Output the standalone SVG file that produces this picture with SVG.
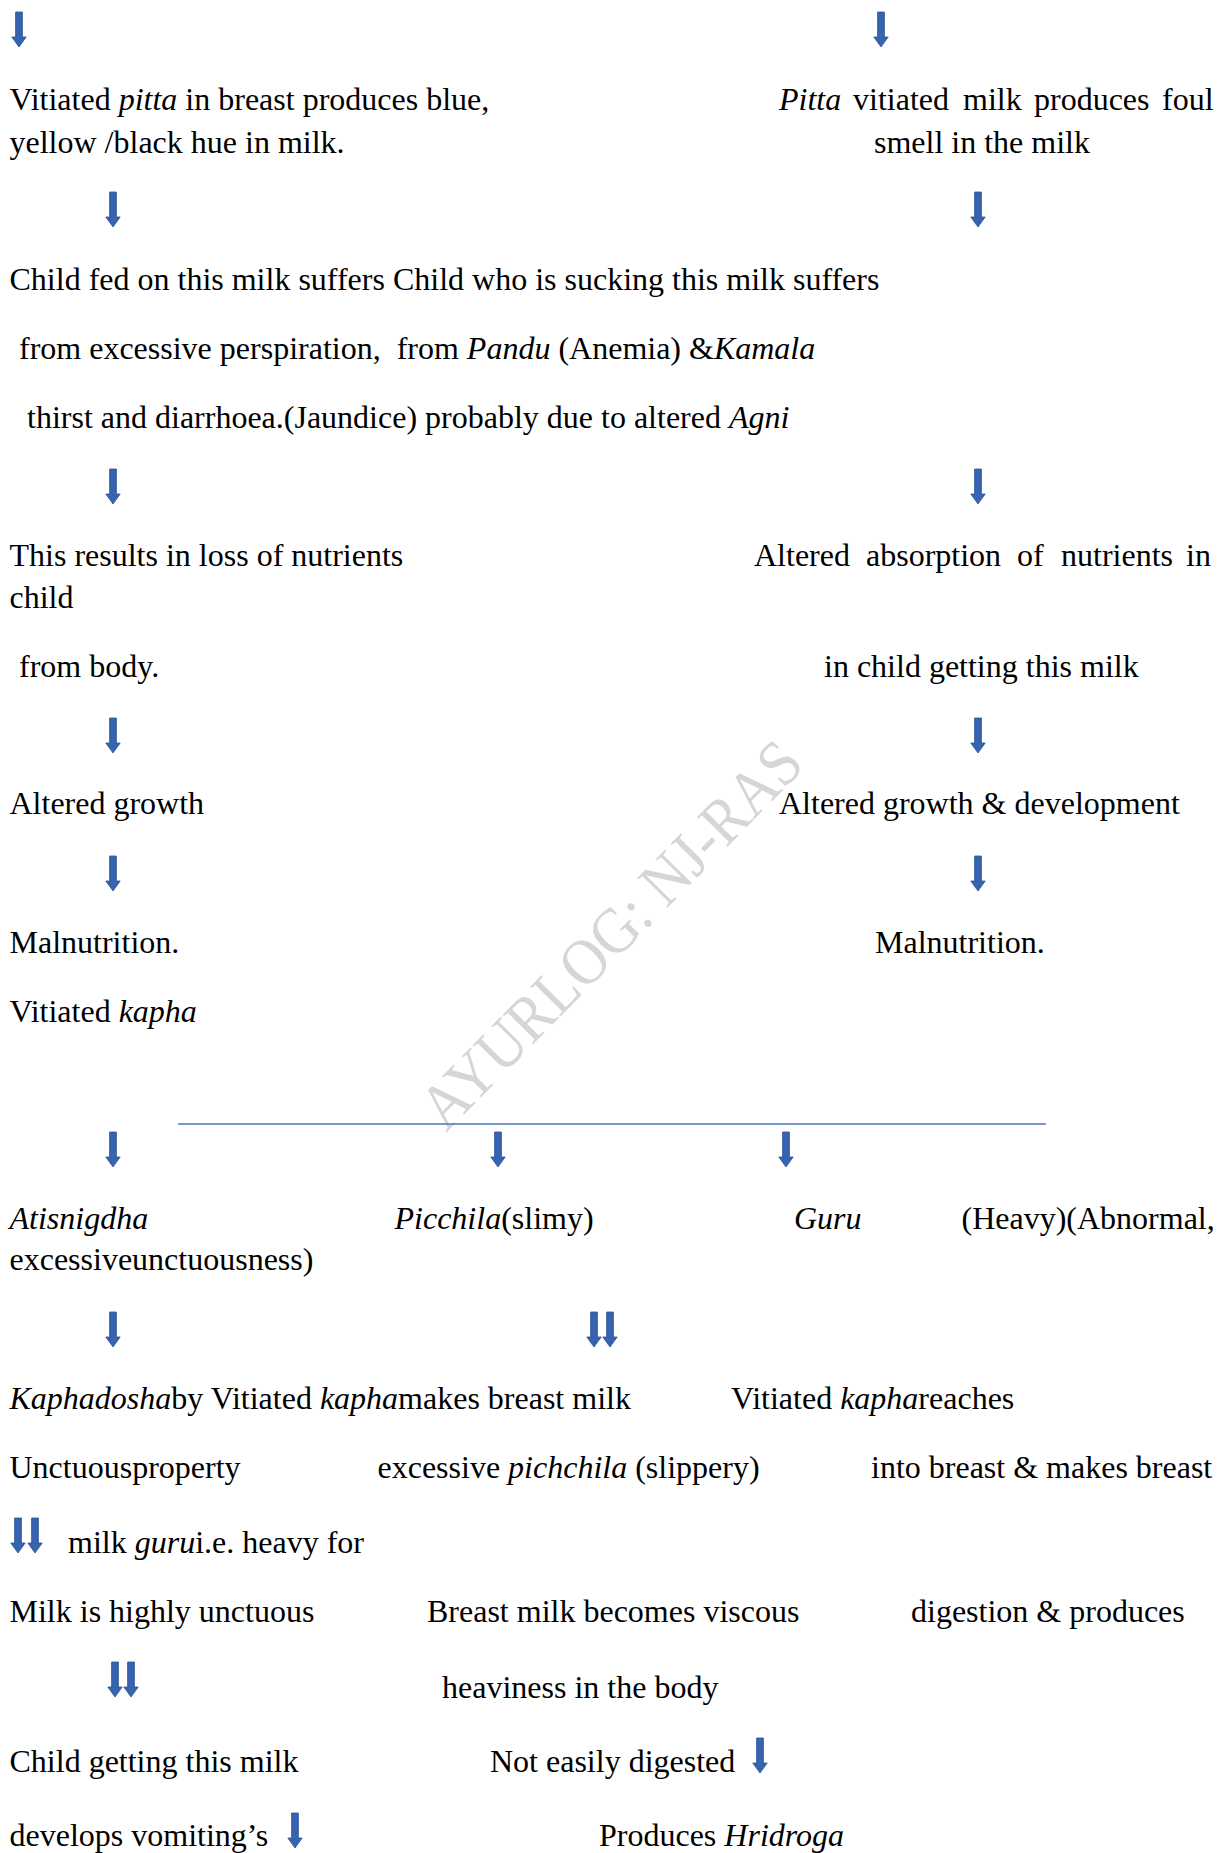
<svg xmlns="http://www.w3.org/2000/svg" width="1225" height="1853" viewBox="0 0 1225 1853">
<style>
text{font-family:"Liberation Serif","Times New Roman",serif;font-size:32px;fill:#000}
.i{font-style:italic}
.wm{font-family:"Liberation Serif",serif;font-size:59px;fill:#d6d6d6}
.ln{stroke:#4a76c0;stroke-width:1.6;fill:none}
</style>
<defs>
<path id="arr" d="M-3.4,0 H3.4 V25 H7.2 L0,35 L-7.2,25 H-3.4 Z" fill="#3664b0" stroke="#2b5393" stroke-width="0.8"/>
</defs>
<rect width="1225" height="1853" fill="#fff"/>
<g id="watermark"><text class="wm" transform="translate(446,1133) rotate(-45.5) scale(1,1.1)">AYURLOG: NJ-RAS</text></g>
<g id="connectors">
<use href="#arr" x="19" y="12"/>
<use href="#arr" x="881" y="12"/>
<use href="#arr" x="113" y="192"/>
<use href="#arr" x="978" y="192"/>
<use href="#arr" x="113" y="469"/>
<use href="#arr" x="978" y="469"/>
<use href="#arr" x="113" y="718"/>
<use href="#arr" x="978" y="718"/>
<use href="#arr" x="113" y="856"/>
<use href="#arr" x="978" y="856"/>
<line class="ln" x1="178" y1="1124" x2="1046" y2="1124"/>
<use href="#arr" x="113" y="1132"/>
<use href="#arr" x="498" y="1132"/>
<use href="#arr" x="786" y="1132"/>
<use href="#arr" x="113" y="1312"/>
<use href="#arr" x="594" y="1312"/>
<use href="#arr" x="610" y="1312"/>
<use href="#arr" x="18" y="1518"/>
<use href="#arr" x="35" y="1518"/>
<use href="#arr" x="115" y="1662"/>
<use href="#arr" x="131" y="1662"/>
<use href="#arr" x="760" y="1738"/>
<use href="#arr" x="295" y="1813"/>
</g>
<g id="n1"><text x="9.5" y="110">Vitiated <tspan class="i">pitta</tspan> in breast produces blue,</text><text x="9.5" y="153">yellow /black hue in milk.</text></g>
<g id="n2"><text y="110"><tspan class="i" x="779">Pitta</tspan><tspan x="853">vitiated</tspan><tspan x="963">milk</tspan><tspan x="1034">produces</tspan><tspan x="1162">foul</tspan></text><text x="874" y="153">smell in the milk</text></g>
<g id="n3"><text x="9.5" y="290">Child fed on this milk suffers Child who is sucking this milk suffers</text><text x="19" y="359" xml:space="preserve">from excessive perspiration,  from <tspan class="i">Pandu</tspan> (Anemia) &amp;<tspan class="i">Kamala</tspan></text><text x="27" y="428">thirst and diarrhoea.(Jaundice) probably due to altered <tspan class="i">Agni</tspan></text></g>
<g id="n4"><text x="9.5" y="566">This results in loss of nutrients</text><text x="9.5" y="608">child</text><text x="19" y="677">from body.</text></g>
<g id="n5"><text y="566"><tspan x="754">Altered</tspan><tspan x="866">absorption</tspan><tspan x="1017">of</tspan><tspan x="1061">nutrients</tspan><tspan x="1186">in</tspan></text><text x="824" y="677">in child getting this milk</text></g>
<g id="n6"><text x="9.5" y="814">Altered growth</text></g>
<g id="n7"><text x="779" y="814">Altered growth &amp; development</text></g>
<g id="n8"><text x="9.5" y="953">Malnutrition.</text></g>
<g id="n9"><text x="875" y="953">Malnutrition.</text></g>
<g id="n10"><text x="9.5" y="1022">Vitiated <tspan class="i">kapha</tspan></text></g>
<g id="n11"><text x="9.5" y="1229" class="i">Atisnigdha</text><text x="9.5" y="1270">excessiveunctuousness)</text></g>
<g id="n12"><text x="394.5" y="1229"><tspan class="i">Picchila</tspan>(slimy)</text></g>
<g id="n13"><text y="1229"><tspan class="i" x="794">Guru</tspan><tspan x="961.5">(Heavy)(Abnormal,</tspan></text></g>
<g id="n14"><text x="9.5" y="1409"><tspan class="i">Kaphadosha</tspan>by Vitiated <tspan class="i">kapha</tspan>makes breast milk</text><text x="9.5" y="1478">Unctuousproperty</text></g>
<g id="n15"><text x="377.5" y="1478">excessive <tspan class="i">pichchila</tspan> (slippery)</text></g>
<g id="n16"><text x="731" y="1409">Vitiated <tspan class="i">kapha</tspan>reaches</text><text x="871" y="1478">into breast &amp; makes breast</text></g>
<g id="n17"><text x="68" y="1553">milk <tspan class="i">guru</tspan>i.e. heavy for</text></g>
<g id="n18"><text x="9.5" y="1622">Milk is highly unctuous</text></g>
<g id="n19"><text x="427" y="1622">Breast milk becomes viscous</text></g>
<g id="n20"><text x="911" y="1622">digestion &amp; produces</text></g>
<g id="n21"><text x="442" y="1698">heaviness in the body</text></g>
<g id="n22"><text x="9.5" y="1772">Child getting this milk</text><text x="9.5" y="1846">develops vomiting’s</text></g>
<g id="n23"><text x="490" y="1772">Not easily digested</text></g>
<g id="n24"><text x="599" y="1846">Produces <tspan class="i">Hridroga</tspan></text></g>
</svg>
